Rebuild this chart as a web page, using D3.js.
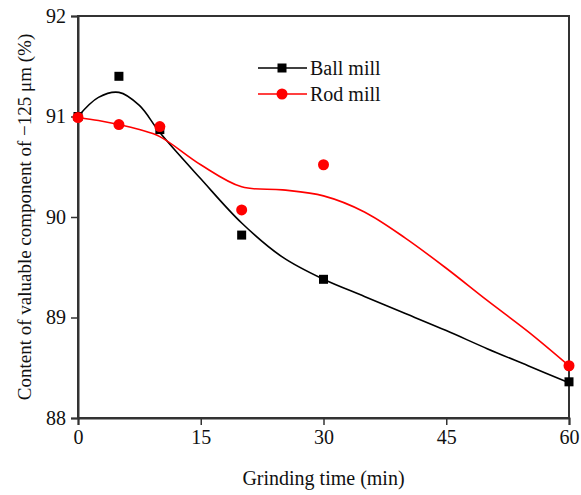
<!DOCTYPE html>
<html>
<head>
<meta charset="utf-8">
<script src="https://cdn.jsdelivr.net/npm/d3@7"></script>
<style>
  body { margin: 0; background: #fff; }
  svg text { font-family: "Liberation Serif", "DejaVu Serif", serif; fill: #111; }
</style>
</head>
<body>
<div id="chart"></div>
<script>
// measured points
var times    = [0, 5, 10, 20, 30, 60];
var ballMill = [91.0, 91.4, 90.87, 89.82, 89.38, 88.36];
var rodMill  = [90.99, 90.92, 90.90, 90.07, 90.52, 88.52];

// fitted curves
var fitTimes = [0, 2.5, 5, 7.5, 10, 15, 20, 25, 30, 35, 40, 45, 50, 55, 60];
var ballFit  = [91.0, 91.19, 91.24, 91.11, 90.84, 90.38, 89.94, 89.60, 89.38, 89.21, 89.04, 88.87, 88.69, 88.52, 88.35];
var rodFit   = [90.99, 90.96, 90.92, 90.87, 90.80, 90.52, 90.30, 90.27, 90.21, 90.05, 89.79, 89.49, 89.17, 88.86, 88.52];

var xTicks = [0, 15, 30, 45, 60];
var yTicks = [88, 89, 90, 91, 92];

var width = 581, height = 495;
var m = {top: 16, right: 12, bottom: 77, left: 78};
var w = width - m.left - m.right,
    h = height - m.top - m.bottom;

var svg = d3.select("#chart").append("svg").attr("width", width).attr("height", height);
var g = svg.append("g").attr("transform", "translate(" + m.left + "," + m.top + ")");

var x = d3.scaleLinear().domain([0, 60]).range([0, w]);
var y = d3.scaleLinear().domain([88, 92]).range([h, 0]);

// frame
g.append("rect").attr("width", w).attr("height", h)
  .attr("fill", "none").attr("stroke", "#333").attr("stroke-width", 2);

var xAxis = g.append("g").attr("transform", "translate(0," + h + ")")
  .call(d3.axisBottom(x).tickValues(xTicks).tickFormat(d3.format("d")).tickSize(7).tickPadding(5));
var yAxis = g.append("g")
  .call(d3.axisLeft(y).tickValues(yTicks).tickFormat(d3.format("d")).tickSize(7).tickPadding(5));

[xAxis, yAxis].forEach(function(a) {
  a.attr("font-family", null).attr("font-size", null);
  a.select(".domain").attr("stroke", "#333").attr("stroke-width", 2);
  a.selectAll(".tick line").attr("stroke", "#333").attr("stroke-width", 1.5);
  a.selectAll(".tick text").style("font-size", "20px").attr("fill", "#111");
});

var line = d3.line()
  .x(function(d) { return x(d[0]); })
  .y(function(d) { return y(d[1]); })
  .curve(d3.curveCatmullRom.alpha(0.5));

g.append("path").datum(d3.zip(fitTimes, ballFit))
  .attr("d", line).attr("fill", "none").attr("stroke", "#000").attr("stroke-width", 1.6);
g.append("path").datum(d3.zip(fitTimes, rodFit))
  .attr("d", line).attr("fill", "none").attr("stroke", "#f00").attr("stroke-width", 1.6);

var sq = 9;
g.selectAll(".ball").data(d3.zip(times, ballMill)).enter()
  .append("rect").attr("class", "ball")
  .attr("x", function(d) { return x(d[0]) - sq / 2; })
  .attr("y", function(d) { return y(d[1]) - sq / 2; })
  .attr("width", sq).attr("height", sq).attr("fill", "#000");

g.selectAll(".rod").data(d3.zip(times, rodMill)).enter()
  .append("circle").attr("class", "rod")
  .attr("cx", function(d) { return x(d[0]); })
  .attr("cy", function(d) { return y(d[1]); })
  .attr("r", 5.5).attr("fill", "#f00");

// legend
var legend = [
  {name: "Ball mill", color: "#000", shape: "square", y: 68},
  {name: "Rod mill", color: "#f00", shape: "circle", y: 94}
];
var lg = svg.append("g");
legend.forEach(function(l) {
  lg.append("line").attr("x1", 258).attr("x2", 307).attr("y1", l.y).attr("y2", l.y)
    .attr("stroke", l.color).attr("stroke-width", 1.6);
  if (l.shape == "square") {
    lg.append("rect").attr("x", 282 - sq / 2).attr("y", l.y - sq / 2)
      .attr("width", sq).attr("height", sq).attr("fill", l.color);
  } else {
    lg.append("circle").attr("cx", 282).attr("cy", l.y).attr("r", 5.5).attr("fill", l.color);
  }
  lg.append("text").attr("x", 310).attr("y", l.y + 7)
    .style("font-size", "20px").text(l.name);
});

// axis titles
svg.append("text").attr("x", m.left + w / 2).attr("y", 485)
  .attr("text-anchor", "middle").style("font-size", "20px").text("Grinding time (min)");
svg.append("text")
  .attr("transform", "translate(31," + (m.top + h / 2) + ") rotate(-90)")
  .attr("text-anchor", "middle").style("font-size", "19px")
  .text("Content of valuable component of \u2212125 \u03bcm (%)");
</script>
</body>
</html>
